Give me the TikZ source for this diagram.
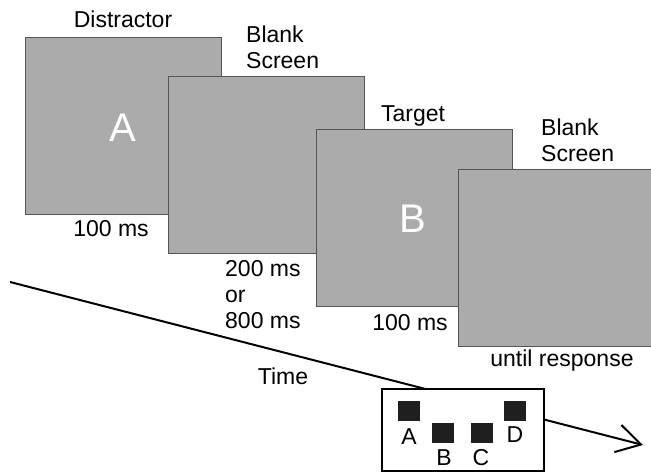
\documentclass[tikz,border=0pt]{standalone}
\usepackage{fontspec}
\setmainfont{Liberation Sans}
\usetikzlibrary{arrows.meta}
\definecolor{scrfill}{RGB}{171,171,171}
\definecolor{scredge}{RGB}{85,85,85}
\begin{document}
\begin{tikzpicture}[x=1pt,y=-1pt,
  screen/.style={draw=scredge,line width=1.1pt,fill=scrfill,minimum width=196pt,minimum height=177pt,inner sep=0pt,anchor=north west},
  lbl/.style={font=\fontsize{23}{26}\selectfont,inner sep=0pt,align=left},
  big/.style={font=\fontsize{40}{44}\selectfont,text=white,inner sep=0pt},
  sq/.style={fill=black!88,minimum width=22pt,minimum height=20pt,inner sep=0pt}]
\clip (0,0) rectangle (651,473);
\node[screen] (s1) at (25,37) {};
\node[screen] (s2) at (168,76) {};
\node[screen] (s3) at (316,129) {};
\node[screen] (s4) at (458,169) {};
\node[big] (la) at (123,128) {A};
\node[big] (lb) at (413,219) {B};
\node[lbl] (t1) at (123,19) {Distractor};
\node[lbl,anchor=west] (t2) at (246,47) {Blank\\Screen};
\node[lbl] (t3) at (413,116) {Target};
\node[lbl,anchor=west] (t4) at (541,140) {Blank\\Screen};
\node[lbl] (d1) at (111,229) {100 ms};
\node[lbl,anchor=west] (d2) at (225,295) {200 ms\\or\\800 ms};
\node[lbl] (d3) at (410,323) {100 ms};
\node[lbl] (d4) at (562,361) {until response};
\node[lbl] (time) at (283,376) {Time};
\coordinate (ts) at (10,282);
\coordinate (te) at (643,445);
\draw[line width=2pt,-{Straight Barb[length=24pt,width=28pt,line width=2pt]}] (ts) -- (te);
\node[draw=black,line width=1.8pt,fill=white,minimum width=162pt,minimum height=82pt,inner sep=0pt,anchor=north west] (box) at (381,388) {};
\node[sq] (qa) at (408.5,411) {};
\node[sq] (qb) at (442.5,433) {};
\node[sq] (qc) at (481.5,433) {};
\node[sq] (qd) at (515,411) {};
\node[lbl] (ka) at (409,437) {A};
\node[lbl] (kb) at (444,458) {B};
\node[lbl] (kc) at (481,458) {C};
\node[lbl] (kd) at (515,435) {D};
\end{tikzpicture}
\end{document}
